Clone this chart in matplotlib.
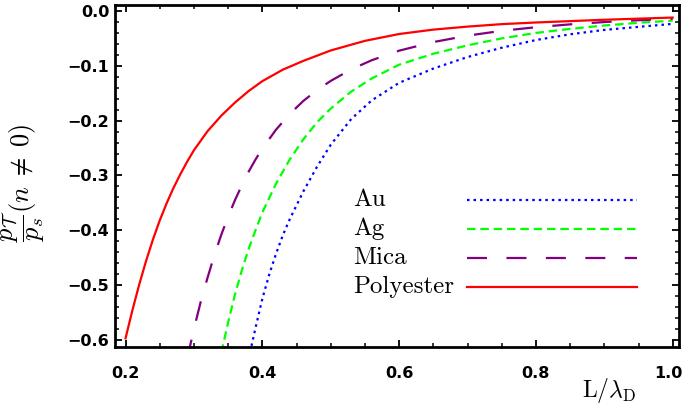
import numpy as np
import matplotlib
matplotlib.use("Agg")
import matplotlib.pyplot as plt
from matplotlib.ticker import MultipleLocator, FuncFormatter
from matplotlib.transforms import ScaledTranslation

plt.rcParams['mathtext.fontset'] = 'cm'
plt.rcParams['lines.scale_dashes'] = False

# values
red_x = [0.20, 0.21, 0.22, 0.23, 0.24, 0.25, 0.26, 0.27, 0.28, 0.29, 0.30, 0.32, 0.34, 0.36, 0.38,
         0.40, 0.43, 0.46, 0.50, 0.55, 0.60, 0.65, 0.70, 0.75, 0.80, 0.85, 0.90, 0.95, 1.00]
red_y = [-0.597, -0.546, -0.499, -0.456, -0.417, -0.382, -0.351, -0.323, -0.298, -0.275, -0.254,
         -0.219, -0.191, -0.167, -0.146, -0.128, -0.107, -0.091, -0.072, -0.0545, -0.042, -0.034,
         -0.0285, -0.024, -0.021, -0.0185, -0.016, -0.014, -0.012]

mica_x = [0.29, 0.30, 0.31, 0.32, 0.33, 0.34, 0.35, 0.36, 0.37, 0.38, 0.39, 0.40, 0.42, 0.44, 0.46,
          0.48, 0.50, 0.53, 0.56, 0.60, 0.65, 0.70, 0.75, 0.80, 0.85, 0.90, 0.95, 1.00]
mica_y = [-0.635, -0.580, -0.530, -0.486, -0.445, -0.408, -0.375, -0.345, -0.318, -0.293, -0.271,
          -0.251, -0.2165, -0.188, -0.164, -0.1444, -0.1275, -0.1065, -0.0898, -0.0724, -0.0567,
          -0.045, -0.0362, -0.0296, -0.0244, -0.0202, -0.0169, -0.0143]

ag_x = [0.34, 0.35, 0.36, 0.37, 0.38, 0.39, 0.40, 0.42, 0.44, 0.46, 0.48, 0.50, 0.53, 0.56, 0.60,
        0.65, 0.70, 0.75, 0.80, 0.85, 0.90, 0.95, 1.00]
ag_y = [-0.623, -0.568, -0.517, -0.473, -0.434, -0.400, -0.3675, -0.315, -0.271, -0.234, -0.203,
        -0.178, -0.147, -0.123, -0.098, -0.078, -0.0627, -0.050, -0.040, -0.0327, -0.0265, -0.0215,
        -0.0176]

au_x = [0.38, 0.39, 0.40, 0.41, 0.42, 0.43, 0.44, 0.46, 0.48, 0.50, 0.53, 0.56, 0.60, 0.65, 0.70,
        0.75, 0.80, 0.85, 0.90, 0.95, 1.00]
au_y = [-0.634, -0.578, -0.525, -0.481, -0.443, -0.409, -0.380, -0.329, -0.284, -0.244, -0.197,
        -0.163, -0.131, -0.105, -0.084, -0.067, -0.053, -0.0425, -0.0345, -0.029, -0.0235]

labels = ["Au", "Ag", "Mica", "Polyester"]

fig = plt.figure(figsize=(6.85, 4.04), dpi=100)
ax = fig.add_axes([115 / 685, 1 - 347 / 404, 564 / 685, 342 / 404])

lw = 1.6
au_line, = ax.plot(au_x, au_y, color='#0000ff', lw=lw, ls=(0, (1.8, 2.9)))
ag_line, = ax.plot(ag_x, ag_y, color='#00ff00', lw=lw, ls=(0, (6.1, 3.5)))
mica_line, = ax.plot(mica_x, mica_y, color='#800080', lw=lw, ls=(0, (14.4, 14.0)))
red_line, = ax.plot(red_x, red_y, color='#ff0000', lw=lw)

ax.set_xlim(0.1846, 1.0092)
ax.set_ylim(-0.6128, 0.0109)

ax.xaxis.set_major_locator(MultipleLocator(0.2))
ax.xaxis.set_minor_locator(MultipleLocator(0.05))
ax.yaxis.set_major_locator(MultipleLocator(0.1))
ax.yaxis.set_minor_locator(MultipleLocator(0.02))


def fmt(v, _):
    if abs(v) < 1e-9:
        v = 0.0
    return f'{v:.1f}'.replace('-', '\u2212')


ax.xaxis.set_major_formatter(FuncFormatter(fmt))
ax.yaxis.set_major_formatter(FuncFormatter(fmt))

ax.tick_params(which='both', direction='in', top=True, right=True)
ax.tick_params(which='major', length=5, width=1.3, labelsize=11.5, pad=4)
ax.tick_params(axis='x', which='major', pad=14)
ax.tick_params(which='minor', length=3, width=1.1)
for lab in ax.get_xticklabels() + ax.get_yticklabels():
    lab.set_fontweight('bold')
for sp in ax.spines.values():
    sp.set_linewidth(2.0)

# keep the last x label inside the picture
fig.canvas.draw()
for tick in ax.xaxis.get_major_ticks():
    if tick.label1.get_text() == '1.0':
        tick.label1.set_transform(tick.label1.get_transform()
                                  + ScaledTranslation(-4 / 100, 0, fig.dpi_scale_trans))

ax.set_xlabel(r'$\mathrm{L}/\lambda_{\mathrm{D}}$', fontsize=17)
ax.xaxis.set_label_coords(0.876, -0.085)
ax.set_ylabel(r'$\dfrac{p_{\mathcal{T}}}{p_s}(n\;\neq\;0)$', fontsize=19)
ax.yaxis.set_label_coords(-0.12, 0.48)

# legend: text on the left, sample lines on the right
handles = [au_line, ag_line, mica_line, red_line]
leg = ax.legend(handles, [''] * 4, loc='upper left', frameon=False,
                bbox_to_anchor=(467 / 685, 1 - 190 / 404), bbox_transform=fig.transFigure,
                fontsize=18, handlelength=6.8, handletextpad=0, borderpad=0,
                borderaxespad=0, labelspacing=0.2)
for i, name in enumerate(labels):
    fig.text(353 / 685, 1 - (206.5 + 28.8 * i) / 404, name, fontsize=18,
             family='cmr10', ha='left', va='baseline')

fig.savefig('out.png', dpi=100)
